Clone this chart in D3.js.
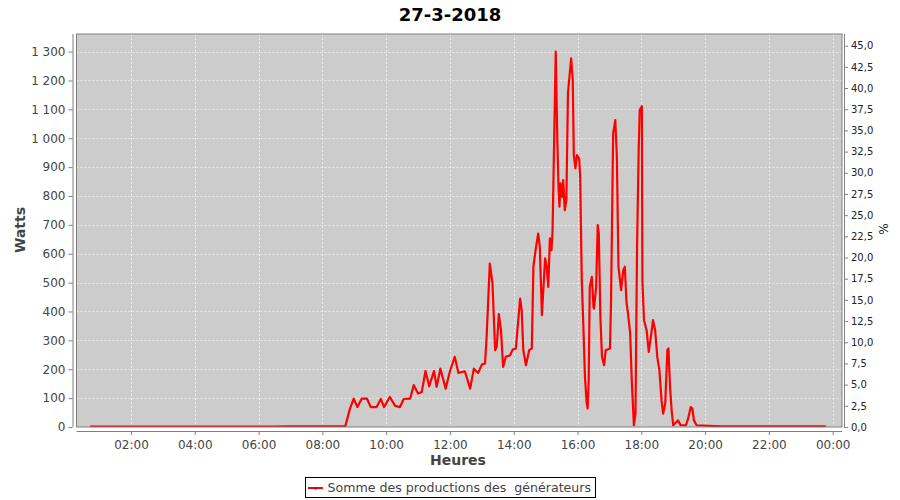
<!DOCTYPE html>
<html>
<head>
<meta charset="utf-8">
<script src="https://cdn.jsdelivr.net/npm/d3@7"></script>
<style>
  body { margin: 0; background: #ffffff; }
  svg { display: block; font-family: "DejaVu Sans", sans-serif; }
</style>
</head>
<body>
<svg id="chart" width="900" height="500"></svg>
<script>
// ---- data ----
const title = "27-3-2018";
const seriesName = "Somme des productions des  générateurs";
const times = [
  "00:43","01:30","02:30","03:30","04:30","05:30","06:30","07:00","07:30","08:00","08:30","08:43",
  "08:46","08:52","08:59","09:06","09:14","09:24","09:31","09:42","09:50","09:56",
  "10:07","10:17","10:26","10:33","10:45","10:52","11:00","11:07","11:14","11:21",
  "11:30","11:35","11:42","11:52","12:00","12:09","12:16","12:28","12:38","12:45",
  "12:53","13:00","13:06","13:09","13:15","13:20","13:25","13:28","13:32","13:36",
  "13:40","13:45","13:53","13:58","14:04","14:12","14:15","14:18","14:23","14:29",
  "14:34","14:37","14:42","14:46","14:49","14:53","14:59","15:02","15:05","15:08",
  "15:11","15:13","15:19","15:22","15:24","15:26","15:28","15:31","15:33","15:36",
  "15:39","15:42","15:48","15:51","15:53","15:56","15:59","16:03","16:05","16:08",
  "16:11","16:14","16:17","16:19","16:21","16:23","16:27","16:30","16:31","16:35",
  "16:38","16:40","16:43","16:46","16:50","16:53","17:01","17:03","17:07","17:11",
  "17:14","17:17","17:22","17:26","17:29","17:32","17:35","17:39","17:42","17:45",
  "17:46","17:49","17:52","17:55","17:57","18:01","18:02","18:05","18:10","18:14",
  "18:18","18:22","18:26","18:30","18:34","18:38","18:41","18:45","18:49","18:51",
  "18:54","18:57","19:00","19:06","19:09","19:14","19:24","19:28","19:33","19:36",
  "19:39","19:44","20:30","21:30","22:30","23:47"
];
const watts = [
  1,1,1,1,1,1,1,2,2,2,2,2,
  22,64,98,69,98,98,69,69,97,69,
  104,73,69,97,98,145,116,121,194,141,
  194,139,202,133,193,243,187,193,133,202,
  187,216,220,312,566,497,266,277,391,335,
  208,243,248,268,272,445,404,266,214,266,
  272,555,624,670,624,387,584,555,485,653,
  612,676,1300,994,844,763,844,797,855,751,
  786,1156,1277,1202,942,896,942,930,867,508,
  347,173,87,64,162,485,520,416,410,485,
  699,670,381,243,214,266,272,433,1017,1063,
  936,555,474,543,555,433,393,324,162,46,
  6,46,624,959,1098,1111,508,370,335,260,
  312,370,335,243,197,93,46,81,266,272,
  139,58,6,17,23,6,6,29,69,64,
  23,6,2,2,2,2
];
const xTickLabels = ["02:00","04:00","06:00","08:00","10:00","12:00","14:00","16:00","18:00","20:00","22:00","00:00"];
const yTicks = [0,100,200,300,400,500,600,700,800,900,1000,1100,1200,1300];
const pctTicks = [0,2.5,5,7.5,10,12.5,15,17.5,20,22.5,25,27.5,30,32.5,35,37.5,40,42.5,45];

// ---- layout ----
const svg = d3.select("#chart");
const L = 76.5, R = 842, T = 34, B = 427;
const parse = s => { const [h, m] = s.split(":").map(Number); return new Date(2018, 2, 27, h, m); };
const data = times.map((t, i) => ({ t: parse(t), v: watts[i] }));

const x = d3.scaleTime()
  .domain([new Date(2018, 2, 27, 0, 17, 30), new Date(2018, 2, 28, 0, 17, 30)])
  .range([L, R]);
const y = d3.scaleLinear().domain([0, 1361]).range([B, T]);
const y2 = d3.scaleLinear().domain([0, 46.38]).range([B, T]);

const xTickDates = xTickLabels.map((s, i) => new Date(2018, 2, 27, 2 * (i + 1), 0));

// plot background
svg.append("rect").attr("x", L).attr("y", T).attr("width", R - L).attr("height", B - T)
  .attr("fill", "#cccccc");

// gridlines
const grid = svg.append("g").attr("stroke", "#ffffff").attr("stroke-width", 0.6)
  .attr("stroke-dasharray", "2,2");
grid.selectAll("line.h").data(yTicks.filter(d => d > 0)).join("line")
  .attr("x1", L).attr("x2", R).attr("y1", d => Math.round(y(d)) + 0.5).attr("y2", d => Math.round(y(d)) + 0.5);
grid.selectAll("line.v").data(xTickDates).join("line")
  .attr("y1", T).attr("y2", B).attr("x1", d => Math.round(x(d)) + 0.5).attr("x2", d => Math.round(x(d)) + 0.5);

// clip
svg.append("clipPath").attr("id", "clip").append("rect")
  .attr("x", L).attr("y", T).attr("width", R - L).attr("height", B - T);

// line
const line = d3.line().x(d => x(d.t)).y(d => y(d.v));
svg.append("path").datum(data).attr("clip-path", "url(#clip)")
  .attr("fill", "none").attr("stroke", "#ff0000").attr("stroke-width", 2.2)
  .attr("stroke-linejoin", "round").attr("d", line);

// plot outline
svg.append("rect").attr("x", L).attr("y", T).attr("width", R - L).attr("height", B - T)
  .attr("fill", "none").attr("stroke", "#808080").attr("stroke-width", 1);

// axes
const tickColor = "#444444";
const axisColor = "#808080";

const gx = svg.append("g").attr("transform", `translate(0,${B + 4})`)
  .call(d3.axisBottom(x).tickValues(xTickDates).tickFormat((d, i) => xTickLabels[i]).tickSize(4).tickSizeOuter(0));
const gy = svg.append("g").attr("transform", `translate(${L - 4},0)`)
  .call(d3.axisLeft(y).tickValues(yTicks).tickFormat(d => d3.format(",")(d).replace(",", " ")).tickSize(4).tickSizeOuter(0));
const gy2 = svg.append("g").attr("transform", `translate(${R + 2},0)`)
  .call(d3.axisRight(y2).tickValues(pctTicks).tickFormat(d => d.toFixed(1).replace(".", ",")).tickSize(4).tickSizeOuter(0));

[gx, gy, gy2].forEach(g => {
  g.select(".domain").attr("stroke", axisColor);
  g.selectAll(".tick line").attr("stroke", axisColor);
  g.selectAll(".tick text").attr("fill", tickColor).attr("font-family", "DejaVu Sans");
});
gx.selectAll(".tick text").attr("font-size", 12).attr("dy", "0.9em");
gy.selectAll(".tick text").attr("font-size", 12);
gy2.selectAll(".tick text").attr("font-size", 10).attr("fill", "#222222");
gx.select(".domain").attr("d", `M${L},0.5H${R}`);
gy.select(".domain").attr("d", `M0.5,${T}V${B}`);
gy2.select(".domain").attr("d", `M0.5,${T}V${B}`);

// titles
svg.append("text").attr("x", 450).attr("y", 21).attr("text-anchor", "middle")
  .attr("font-size", 18).attr("font-weight", "bold").attr("fill", "#000").text(title);
svg.append("text").attr("x", 458).attr("y", 465).attr("text-anchor", "middle")
  .attr("font-size", 14).attr("font-weight", "bold").attr("fill", tickColor).text("Heures");
svg.append("text").attr("transform", "translate(25,230) rotate(-90)").attr("text-anchor", "middle")
  .attr("font-size", 14).attr("font-weight", "bold").attr("fill", tickColor).text("Watts");
svg.append("text").attr("transform", "translate(888,229) rotate(-90)").attr("text-anchor", "middle")
  .attr("font-size", 12).attr("fill", "#222222").text("%");

// legend
const lg = svg.append("g");
lg.append("rect").attr("x", 305.5).attr("y", 477.5).attr("width", 290).attr("height", 20)
  .attr("fill", "#ffffff").attr("stroke", "#000000").attr("stroke-width", 1);
lg.append("line").attr("x1", 308).attr("x2", 323).attr("y1", 488).attr("y2", 488)
  .attr("stroke", "#ff0000").attr("stroke-width", 2);
lg.append("rect").attr("x", 314.5).attr("y", 487.5).attr("width", 2).attr("height", 2).attr("fill", "#aa0000");
lg.append("text").attr("x", 327.5).attr("y", 492).attr("font-size", 12.6).attr("fill", tickColor)
  .attr("xml:space", "preserve").style("white-space", "pre").text(seriesName);
</script>
</body>
</html>
